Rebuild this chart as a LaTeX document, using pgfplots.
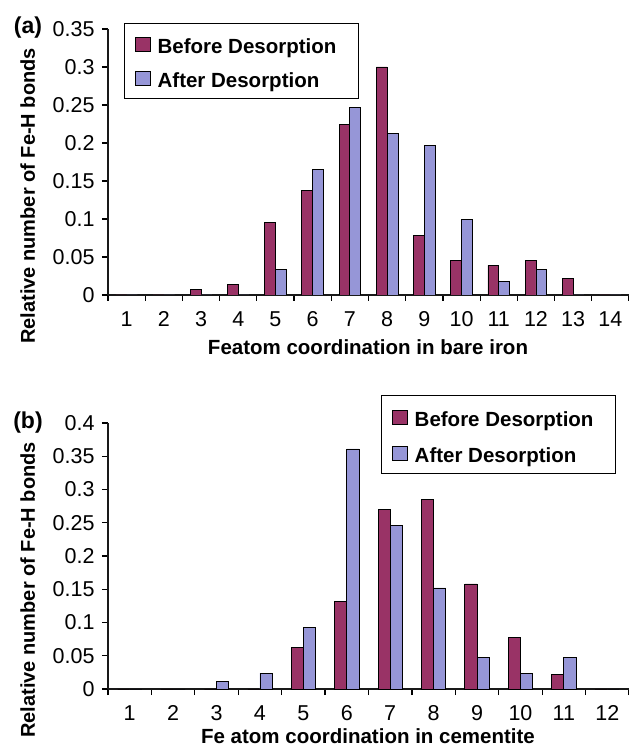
\documentclass[border=0pt]{standalone}
\usepackage{fontspec}
\setmainfont{Liberation Sans}
\usepackage{pgfplots}
\pgfplotsset{compat=1.18}
\definecolor{before}{RGB}{153,51,102}
\definecolor{after}{RGB}{150,150,215}

\pgfplotsset{
  mystyle/.style={
    scale only axis, width=521pt, height=266pt,
    ybar=0pt,
    axis x line*=bottom, axis y line*=left,
    axis line style={line width=1.6pt, color=black!90},
    tick style={line width=1.2pt, black},
    tick align=outside, major tick length=6pt,
    x tick label as interval,
    ymin=0,
    /pgf/number format/assume math mode=true,
    /pgf/number format/fixed,
    ticklabel style={font=\fontsize{21.5}{24}\selectfont},
    xticklabel style={yshift=-7pt},
    yticklabel style={xshift=-4pt},
    enlargelimits=false,
    legend image code/.code={\draw[##1] (0pt,-8pt) rectangle (15pt,6pt);},
    legend cell align=left,
    legend style={draw=black, line width=0.8pt, fill=white,
      inner xsep=11pt, inner ysep=10.5pt, column sep=6.5pt,
      nodes={font=\fontsize{20.5}{24}\selectfont\bfseries, inner sep=0pt,
        text height=20pt, text depth=0pt},
      anchor=north west},
  },
  bstyle/.style={draw=black, line width=0.8pt},
}

\begin{document}
\begin{tikzpicture}
\useasboundingbox (0,0) rectangle (629pt,747pt);

% ---------- (a) ----------
\begin{axis}[mystyle, at={(108pt,452pt)}, anchor=south west,
  xmin=0.5, xmax=14.5, ymax=0.35,
  bar width=10.8pt,
  xtick={0.5,1.5,2.5,3.5,4.5,5.5,6.5,7.5,8.5,9.5,10.5,11.5,12.5,13.5,14.5},
  xticklabels={1,2,3,4,5,6,7,8,9,10,11,12,13,14,},
  ytick={0,0.05,0.1,0.15,0.2,0.25,0.3,0.35},
  legend style={at={(0.0306,1.0226)}, row sep=14pt},
]
\addplot[bstyle, fill=before] coordinates {
 (1,0) (2,0) (3,0.0075) (4,0.014) (5,0.096) (6,0.138) (7,0.224)
 (8,0.300) (9,0.078) (10,0.045) (11,0.039) (12,0.045) (13,0.0215) (14,0)};
\addplot[bstyle, fill=after] coordinates {
 (1,0) (2,0) (3,0) (4,0) (5,0.034) (6,0.165) (7,0.247)
 (8,0.213) (9,0.197) (10,0.0996) (11,0.018) (12,0.034) (13,0) (14,0)};
\legend{Before Desorption\hspace*{10.5pt}, After Desorption}
\end{axis}

% ---------- (b) ----------
\begin{axis}[mystyle, at={(108pt,58pt)}, anchor=south west,
  xmin=0.5, xmax=12.5, ymax=0.4,
  bar width=12.2pt,
  xtick={0.5,1.5,2.5,3.5,4.5,5.5,6.5,7.5,8.5,9.5,10.5,11.5,12.5},
  xticklabels={1,2,3,4,5,6,7,8,9,10,11,12,},
  ytick={0,0.05,0.1,0.15,0.2,0.25,0.3,0.35,0.4},
  legend style={at={(0.524,1.105)}, row sep=16pt, inner ysep=11pt},
]
\addplot[bstyle, fill=before] coordinates {
 (1,0) (2,0) (3,0) (4,0) (5,0.063) (6,0.132) (7,0.270)
 (8,0.285) (9,0.158) (10,0.077) (11,0.022) (12,0)};
\addplot[bstyle, fill=after] coordinates {
 (1,0) (2,0) (3,0.0115) (4,0.024) (5,0.093) (6,0.361) (7,0.246)
 (8,0.152) (9,0.047) (10,0.024) (11,0.047) (12,0)};
\legend{Before Desorption\hspace*{10.5pt}, After Desorption}
\end{axis}

% ---------- labels ----------
\node[rotate=90, anchor=base, font=\fontsize{20}{24}\selectfont\bfseries] at (35pt,551pt) {Relative number of Fe-H bonds};
\node[rotate=90, anchor=base, font=\fontsize{20}{24}\selectfont\bfseries] at (35pt,157pt) {Relative number of Fe-H bonds};
\node[anchor=base, font=\fontsize{20.5}{24}\selectfont\bfseries] at (368pt,392pt) {Featom coordination in bare iron};
\node[anchor=base, font=\fontsize{20.5}{24}\selectfont\bfseries] at (368pt,3pt) {Fe atom coordination in cementite};
\node[font=\fontsize{23}{26}\selectfont\bfseries] at (28pt,719pt) {(a)};
\node[font=\fontsize{23}{26}\selectfont\bfseries] at (28pt,324pt) {(b)};
\end{tikzpicture}
\end{document}
